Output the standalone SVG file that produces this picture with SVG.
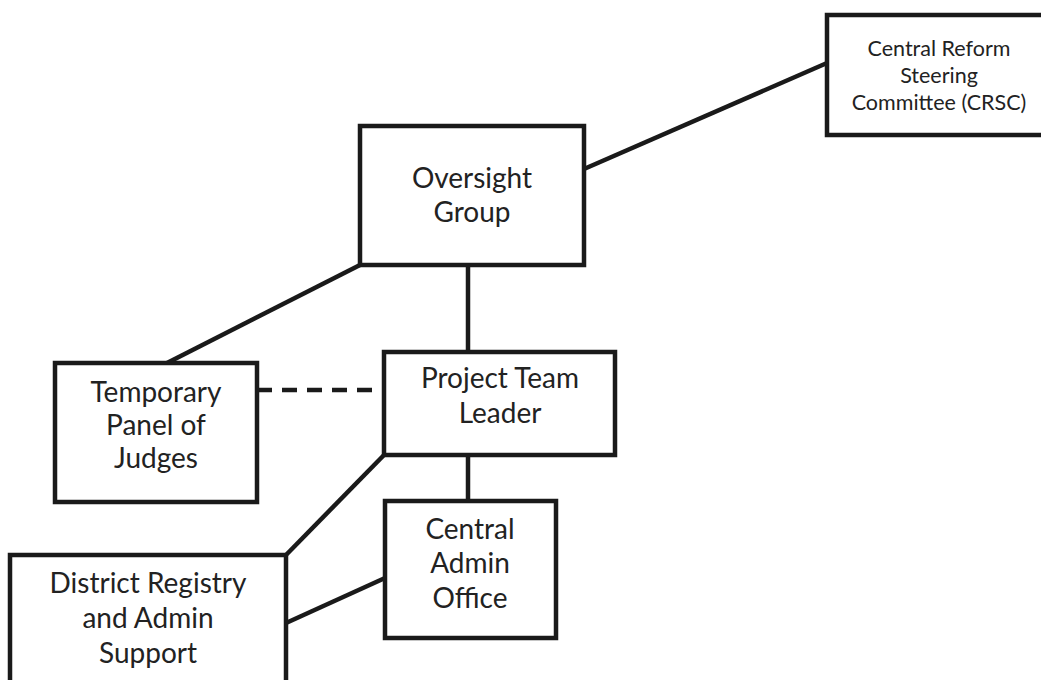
<svg xmlns="http://www.w3.org/2000/svg" width="1041" height="680" viewBox="0 0 1041 680">
<style>
.box{fill:#fff;stroke:#1a1a1a;stroke-width:4.5}
.ln{fill:none;stroke:#1a1a1a;stroke-width:4.5}
.dash{stroke-dasharray:15 10}
.t{font-family:Lato,"Open Sans","Liberation Sans",sans-serif;font-size:28px;fill:#222;text-anchor:middle}
.s{font-size:21.5px}
</style>
<rect width="1041" height="680" fill="#fff"/>
<g id="connectors">
<line class="ln" x1="584" y1="169" x2="827" y2="63"/>
<line class="ln" x1="360" y1="265" x2="167" y2="363"/>
<line class="ln" x1="468" y1="265" x2="468" y2="352"/>
<line class="ln dash" x1="257" y1="390" x2="384" y2="390"/>
<line class="ln" x1="468" y1="455" x2="468" y2="501"/>
<line class="ln" x1="384" y1="455" x2="286" y2="555"/>
<line class="ln" x1="385" y1="578" x2="286" y2="623"/>
</g>
<g id="crsc">
<rect class="box" x="827" y="15" width="230" height="120"/>
<text class="t s" x="939" y="56">Central Reform</text>
<text class="t s" x="939" y="83">Steering</text>
<text class="t s" x="939" y="110">Committee (CRSC)</text>
</g>
<g id="oversight">
<rect class="box" x="360" y="126" width="224" height="139"/>
<text class="t" x="472" y="188">Oversight</text>
<text class="t" x="472" y="222">Group</text>
</g>
<g id="panel">
<rect class="box" x="55" y="363" width="202" height="139"/>
<text class="t" x="156" y="402">Temporary</text>
<text class="t" x="156" y="435">Panel of</text>
<text class="t" x="156" y="468">Judges</text>
</g>
<g id="ptl">
<rect class="box" x="384" y="352" width="231" height="103"/>
<text class="t" x="500" y="388">Project Team</text>
<text class="t" x="500" y="423">Leader</text>
</g>
<g id="cao">
<rect class="box" x="385" y="501" width="171" height="137"/>
<text class="t" x="470" y="539">Central</text>
<text class="t" x="470" y="573">Admin</text>
<text class="t" x="470" y="608">Office</text>
</g>
<g id="district">
<rect class="box" x="10" y="555" width="276" height="140"/>
<text class="t" x="148" y="593">District Registry</text>
<text class="t" x="148" y="628">and Admin</text>
<text class="t" x="148" y="663">Support</text>
</g>
</svg>
